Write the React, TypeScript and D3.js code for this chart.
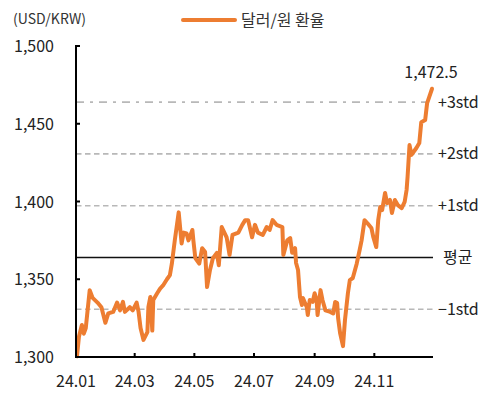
import { useMemo } from 'react';
import * as d3 from 'd3';

// 달러/원 환율, 2024
const DATES = [
  '2024-01-02', '2024-01-04', '2024-01-07', '2024-01-09', '2024-01-11', '2024-01-15', '2024-01-18',
  '2024-01-23', '2024-01-27', '2024-01-29', '2024-01-31', '2024-02-03', '2024-02-08', '2024-02-12',
  '2024-02-15', '2024-02-18', '2024-02-20', '2024-02-25', '2024-02-28', '2024-03-03', '2024-03-05',
  '2024-03-07', '2024-03-10', '2024-03-14', '2024-03-15', '2024-03-17', '2024-03-19', '2024-03-20',
  '2024-03-24', '2024-03-27', '2024-03-30', '2024-04-03', '2024-04-06', '2024-04-08', '2024-04-11',
  '2024-04-15', '2024-04-18', '2024-04-20', '2024-04-23', '2024-04-25', '2024-04-29', '2024-04-30',
  '2024-05-02', '2024-05-06', '2024-05-09', '2024-05-12', '2024-05-14', '2024-05-17', '2024-05-20',
  '2024-05-24', '2024-05-26', '2024-05-29', '2024-06-03', '2024-06-06', '2024-06-09', '2024-06-15',
  '2024-06-19', '2024-06-22', '2024-06-25', '2024-06-29', '2024-07-02', '2024-07-05', '2024-07-10',
  '2024-07-14', '2024-07-17', '2024-07-20', '2024-07-24', '2024-07-30', '2024-07-31', '2024-08-04',
  '2024-08-07', '2024-08-09', '2024-08-12', '2024-08-13', '2024-08-15', '2024-08-17', '2024-08-19',
  '2024-08-20', '2024-08-24', '2024-08-25', '2024-08-27', '2024-08-30', '2024-09-01', '2024-09-03',
  '2024-09-04', '2024-09-07', '2024-09-09', '2024-09-12', '2024-09-17', '2024-09-20', '2024-09-22',
  '2024-09-24', '2024-09-25', '2024-09-27', '2024-09-30', '2024-10-02', '2024-10-05', '2024-10-07',
  '2024-10-10', '2024-10-14', '2024-10-17', '2024-10-19', '2024-10-22', '2024-10-25', '2024-10-29',
  '2024-10-31', '2024-11-03', '2024-11-05', '2024-11-07', '2024-11-09', '2024-11-12', '2024-11-14',
  '2024-11-17', '2024-11-19', '2024-11-22', '2024-11-25', '2024-11-29', '2024-12-02', '2024-12-04',
  '2024-12-05', '2024-12-07', '2024-12-09', '2024-12-14', '2024-12-17', '2024-12-19', '2024-12-23',
  '2024-12-25', '2024-12-27', '2024-12-30',
];

const RATES = [
  1300.4, 1313, 1320.6, 1315, 1318.6, 1343, 1338,
  1335, 1332, 1327, 1322, 1328, 1329, 1335,
  1330, 1335.5, 1329, 1332, 1330, 1335, 1329,
  1318.6, 1311, 1316, 1332, 1338.6, 1317, 1336.7,
  1341, 1344, 1346, 1350, 1352.7, 1360, 1375,
  1393, 1373, 1380, 1379.5, 1375, 1381.7, 1375,
  1363.6, 1360, 1370, 1367.5, 1345, 1356, 1363.6,
  1367, 1359, 1383.6, 1377, 1365.6, 1378.5, 1380,
  1385, 1388, 1388, 1377, 1385, 1380, 1378.5,
  1383.6, 1381.7, 1388, 1385, 1383.6, 1365.6, 1375,
  1376.5, 1367, 1370, 1360.5, 1356, 1338.6, 1333.4,
  1338, 1332, 1327, 1336.7, 1335.4, 1341, 1336.7,
  1327, 1343, 1336.7, 1330, 1329, 1328, 1335.4,
  1334.7, 1325, 1315.4, 1307, 1323.8, 1341, 1349.5,
  1350.8, 1360, 1368.8, 1375, 1388, 1386, 1383,
  1377, 1370.7, 1388, 1396.5, 1394.5, 1405.5, 1399,
  1401, 1392.6, 1401, 1397.7, 1395.8, 1399.7, 1407.4,
  1415.8, 1436.3, 1430, 1434.4, 1437.6, 1451, 1452.4,
  1463.3, 1467, 1472.5,
];

// 평균 and standard-deviation bands
const MEAN = 1364;
const STD = 33.3;
const BANDS = [
  { k: 3, label: '+3std', dash: '8,6,3,6' },
  { k: 2, label: '+2std', dash: '5.5,3.5' },
  { k: 1, label: '+1std', dash: '5.5,3.5' },
  { k: 0, label: '평균', dash: '' },
  { k: -1, label: '−1std', dash: '5.5,3.5' },
];

const Y_TICKS = [1300, 1350, 1400, 1450, 1500];
const X_TICKS = ['2024-01-01', '2024-03-01', '2024-05-01', '2024-07-01', '2024-09-01', '2024-11-01'];

const FONT = '"Noto Sans CJK KR", "Noto Sans", sans-serif';
const ORANGE = '#ED7D31';
const TXT = '#222';
const FS = 16;

export default function App() {
  const W = 495;
  const H = 396;
  const left = 76;
  const right = 433;
  const top = 46;
  const bottom = 357;

  const parse = d3.timeParse('%Y-%m-%d');
  const x = d3.scaleTime()
    .domain([parse('2024-01-01')!, parse('2024-12-31')!])
    .range([left, right]);
  const y = d3.scaleLinear().domain([1300, 1500]).range([bottom, top]);

  const data = useMemo(() => DATES.map((d, i) => ({ date: parse(d)!, v: RATES[i] })), []);
  const path = d3.line<{ date: Date; v: number }>()
    .x(d => x(d.date))
    .y(d => y(d.v))(data) || '';

  const last = data[data.length - 1];
  const fmtX = d3.timeFormat('%y.%m');

  return (
    <svg width={W} height={H} style={{ position: 'absolute', left: 0, top: 0, fontFamily: FONT }}>
      <rect width={W} height={H} fill="#fff" />

      {/* unit + legend */}
      <text x={13} y={24} fontSize={14} fill="#333">(USD/KRW)</text>
      <line x1={183} x2={235} y1={20} y2={20} stroke={ORANGE} strokeWidth={4} strokeLinecap="round" />
      <text x={241} y={25.5} fontSize={16} fill="#333">달러/원 환율</text>

      {/* bands */}
      {BANDS.map(b => {
        const yy = y(MEAN + b.k * STD);
        return (
          <g key={b.label}>
            <line x1={left} x2={right} y1={yy} y2={yy}
              stroke={b.k === 0 ? '#111' : '#b8b8b8'}
              strokeWidth={1.6}
              strokeDasharray={b.dash || undefined} />
            <text x={b.k === 0 ? 443 : 438} y={yy + 5.5} fontSize={FS} fill={TXT}>{b.label}</text>
          </g>
        );
      })}

      {/* series */}
      <path d={path} fill="none" stroke={ORANGE} strokeWidth={4} strokeLinejoin="round" strokeLinecap="round" />
      <text x={x(last.date) - 1} y={78} fontSize={FS} fill={TXT} textAnchor="middle">
        {d3.format(',.1f')(last.v)}
      </text>

      {/* axes */}
      <line x1={left} x2={left} y1={top - 1} y2={bottom + 1} stroke="#000" strokeWidth={2} />
      <line x1={left - 1} x2={right} y1={bottom} y2={bottom} stroke="#000" strokeWidth={2} />
      {Y_TICKS.map(t => (
        <g key={t}>
          {t !== 1300 && <line x1={left} x2={left + 4} y1={y(t)} y2={y(t)} stroke="#000" strokeWidth={2} />}
          <text x={54} y={y(t) + 6} fontSize={FS} fill={TXT} textAnchor="end">{d3.format(',')(t)}</text>
        </g>
      ))}
      {X_TICKS.map(t => {
        const xx = x(parse(t)!);
        return (
          <g key={t}>
            {t !== X_TICKS[0] && <line x1={xx} x2={xx} y1={bottom} y2={bottom - 4} stroke="#000" strokeWidth={2} />}
            <text x={xx} y={387} fontSize={FS} fill={TXT} textAnchor="middle">{fmtX(parse(t)!)}</text>
          </g>
        );
      })}
    </svg>
  );
}
